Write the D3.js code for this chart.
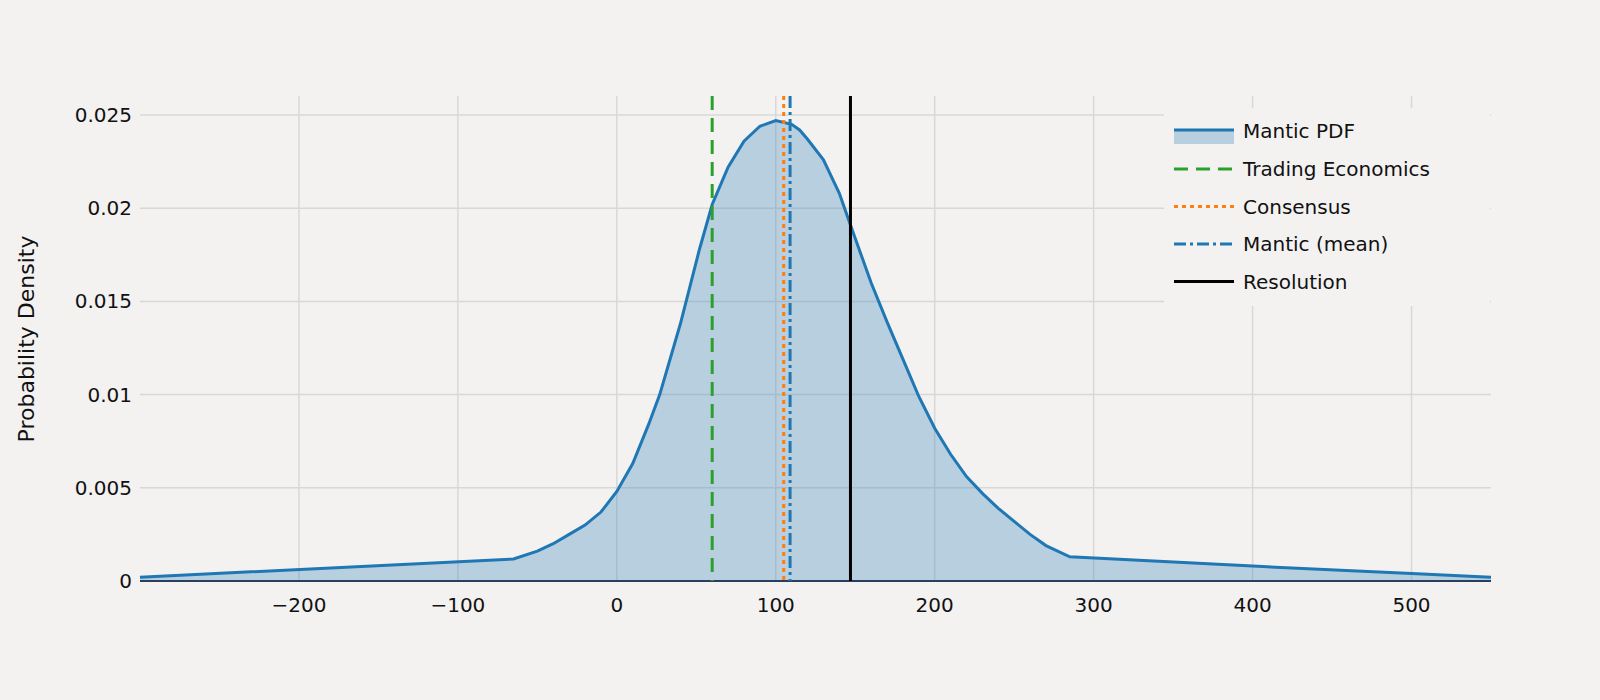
<!DOCTYPE html><html><head><script src="https://cdn.jsdelivr.net/npm/d3@7"></script>
<style>body{margin:0;background:#f3f2f1}</style></head><body><svg id="c" width="1600" height="700"></svg>
<script>
const pdfX=[-300,-65,-50,-40,-30,-20,-10,0,10,20,27,40,52,60,70,80,90,100,110,115,120,130,140,147,160,170,180,190,200,210,220,230,240,250,260,270,285,400,500,550];
const pdfY=[0.0002,0.00118,0.0016,0.002,0.0025,0.003,0.0037,0.0048,0.0063,0.0084,0.01,0.0138,0.0178,0.0202,0.0222,0.0236,0.0244,0.0247,0.0245,0.0242,0.0237,0.0226,0.0208,0.0191,0.016,0.0139,0.0119,0.0099,0.0082,0.0068,0.0056,0.0047,0.0039,0.0032,0.0025,0.0019,0.0013,0.0008,0.0004,0.0002];
const refNames=["Trading Economics","Consensus","Mantic (mean)","Resolution"];
const refVals=[60,105,109,147];
const refColors=["#2ca02c","#ff7f0e","#1f77b4","#000000"];
const refDash=["14,8","4,4","12,4,3,4",null];
const xTicks=[-200,-100,0,100,200,300,400,500];
const yTicks=[0,0.005,0.01,0.015,0.02,0.025];
const yLabels=["0","0.005","0.01","0.015","0.02","0.025"];
const svg=d3.select("#c");
const x=d3.scaleLinear().domain([-300,550]).range([140,1491]);
const y=d3.scaleLinear().domain([0,0.026]).range([581,96.4]);
const font="'DejaVu Sans',sans-serif";
const g=svg.append("g");
g.selectAll(".vx").data(xTicks).join("line").attr("x1",d=>x(d)).attr("x2",d=>x(d)).attr("y1",96).attr("y2",581).attr("stroke","#d8d8d8").attr("stroke-width",1.5);
g.selectAll(".hy").data(yTicks).join("line").attr("x1",140).attr("x2",1491).attr("y1",d=>y(d)).attr("y2",d=>y(d)).attr("stroke","#d8d8d8").attr("stroke-width",1.5);
const pts=pdfX.map((v,i)=>[v,pdfY[i]]);
g.append("path").datum(pts).attr("d",d3.area().x(d=>x(d[0])).y0(y(0)).y1(d=>y(d[1]))).attr("fill","#1f77b4").attr("fill-opacity",0.28);
g.append("path").datum(pts).attr("d",d3.line().x(d=>x(d[0])).y(d=>y(d[1]))).attr("fill","none").attr("stroke","#1f77b4").attr("stroke-width",3);
g.append("line").attr("x1",140).attr("x2",1491).attr("y1",y(0)).attr("y2",y(0)).attr("stroke","#2a3f5f").attr("stroke-width",2);
refVals.forEach((v,i)=>{g.append("line").attr("x1",x(v)).attr("x2",x(v)).attr("y1",96).attr("y2",581).attr("stroke",refColors[i]).attr("stroke-width",3).attr("stroke-dasharray",refDash[i]);});
g.selectAll(".xt").data(xTicks).join("text").attr("x",d=>x(d)).attr("y",612).attr("text-anchor","middle").attr("font-family",font).attr("font-size",20).attr("fill","#111").text(d=>d<0?"\u2212"+(-d):d);
g.selectAll(".yt").data(yTicks).join("text").attr("x",132).attr("y",d=>y(d)+7).attr("text-anchor","end").attr("font-family",font).attr("font-size",20).attr("fill","#111").text((d,i)=>yLabels[i]);
svg.append("text").attr("transform","translate(34,339) rotate(-90)").attr("text-anchor","middle").attr("font-family",font).attr("font-size",22).attr("fill","#111").text("Probability Density");
const lg=svg.append("g").attr("transform","translate(1164,108)");
lg.append("rect").attr("width",326).attr("height",198).attr("fill","#f3f2f1");
lg.append("rect").attr("x",10).attr("y",22).attr("width",60).attr("height",14).attr("fill","#1f77b4").attr("fill-opacity",0.28);
lg.append("line").attr("x1",10).attr("x2",70).attr("y1",22).attr("y2",22).attr("stroke","#1f77b4").attr("stroke-width",3);
lg.append("text").attr("x",79).attr("y",30).attr("font-family",font).attr("font-size",20).attr("fill","#111").text("Mantic PDF");
refNames.forEach((n,i)=>{const yy=61+i*37.5;
lg.append("line").attr("x1",10).attr("x2",70).attr("y1",yy).attr("y2",yy).attr("stroke",refColors[i]).attr("stroke-width",3).attr("stroke-dasharray",refDash[i]);
lg.append("text").attr("x",79).attr("y",yy+7).attr("font-family",font).attr("font-size",20).attr("fill","#111").text(n);});
</script></body></html>
